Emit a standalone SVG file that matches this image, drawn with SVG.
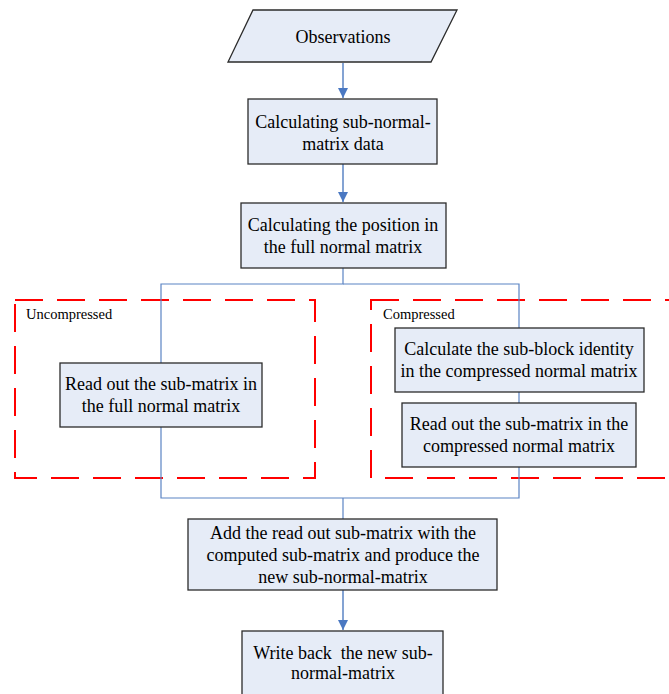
<svg xmlns="http://www.w3.org/2000/svg" width="669" height="694" viewBox="0 0 669 694">
<style>
.n{fill:#E6ECF7;stroke:#2b2b2b;stroke-width:1.3}
.t{font-family:"Liberation Serif","Times New Roman",serif;font-size:18px;fill:#000;text-anchor:middle;dominant-baseline:central}
.s{font-family:"Liberation Serif","Times New Roman",serif;font-size:14.5px;fill:#000;dominant-baseline:central}
.c{fill:none;stroke:#5B84C4;stroke-width:1.2}
.a{fill:none;stroke:#5B84C4;stroke-width:1.5}
.r{fill:none;stroke:#FF0000;stroke-width:2;stroke-dasharray:28 14}
</style>
<defs>
<marker id="ah" markerWidth="10" markerHeight="10" refX="10" refY="5" orient="auto" markerUnits="userSpaceOnUse">
<path d="M0,0 L10,5 L0,10 z" fill="#4A78C2"/>
</marker>
</defs>
<g id="regions">
<rect class="r" x="15" y="300" width="300" height="178"/>
<rect class="r" x="371" y="300" width="310" height="178"/>
<text class="s" x="26" y="314">Uncompressed</text>
<text class="s" x="383" y="314">Compressed</text>
</g>
<g id="connectors">
<line class="a" x1="343" y1="63" x2="343" y2="98" marker-end="url(#ah)"/>
<line class="a" x1="343" y1="164" x2="343" y2="202" marker-end="url(#ah)"/>
<polyline class="c" points="343,268 343,284 161,284 161,363"/>
<polyline class="c" points="343,284 519,284 519,328"/>
<line class="c" x1="519" y1="392" x2="519" y2="403"/>
<polyline class="c" points="161,427 161,498 519,498 519,467"/>
<line class="c" x1="343" y1="498" x2="343" y2="519"/>
<line class="a" x1="343" y1="590" x2="343" y2="630" marker-end="url(#ah)"/>
</g>
<g id="observations">
<polygon class="n" points="253,10 457,10 431,62 228,62"/>
<text class="t" x="343" y="37">Observations</text>
</g>
<g id="calc-sub">
<rect class="n" x="248" y="99" width="189" height="65"/>
<text class="t" x="343" y="122">Calculating sub-normal-</text>
<text class="t" x="343" y="144">matrix data</text>
</g>
<g id="calc-pos">
<rect class="n" x="241" y="203" width="205" height="65"/>
<text class="t" x="343" y="225">Calculating the position in</text>
<text class="t" x="343" y="247">the full normal matrix</text>
</g>
<g id="read-full">
<rect class="n" x="60" y="363" width="202" height="64"/>
<text class="t" x="161" y="384">Read out the sub-matrix in</text>
<text class="t" x="161" y="406">the full normal matrix</text>
</g>
<g id="calc-block">
<rect class="n" x="395" y="328" width="249" height="64"/>
<text class="t" x="519" y="349">Calculate the sub-block identity</text>
<text class="t" x="519" y="371">in the compressed normal matrix</text>
</g>
<g id="read-comp">
<rect class="n" x="402" y="403" width="234" height="64"/>
<text class="t" x="519" y="424">Read out the sub-matrix in the</text>
<text class="t" x="519" y="446">compressed normal matrix</text>
</g>
<g id="add">
<rect class="n" x="188" y="519" width="309" height="71"/>
<text class="t" x="343" y="533">Add the read out sub-matrix with the</text>
<text class="t" x="343" y="555">computed sub-matrix and produce the</text>
<text class="t" x="343" y="577">new sub-normal-matrix</text>
</g>
<g id="write">
<rect class="n" x="242" y="631" width="201" height="70"/>
<text class="t" x="343" y="653" style="white-space:pre">Write back  the new sub-</text>
<text class="t" x="343" y="673">normal-matrix</text>
</g>
</svg>
